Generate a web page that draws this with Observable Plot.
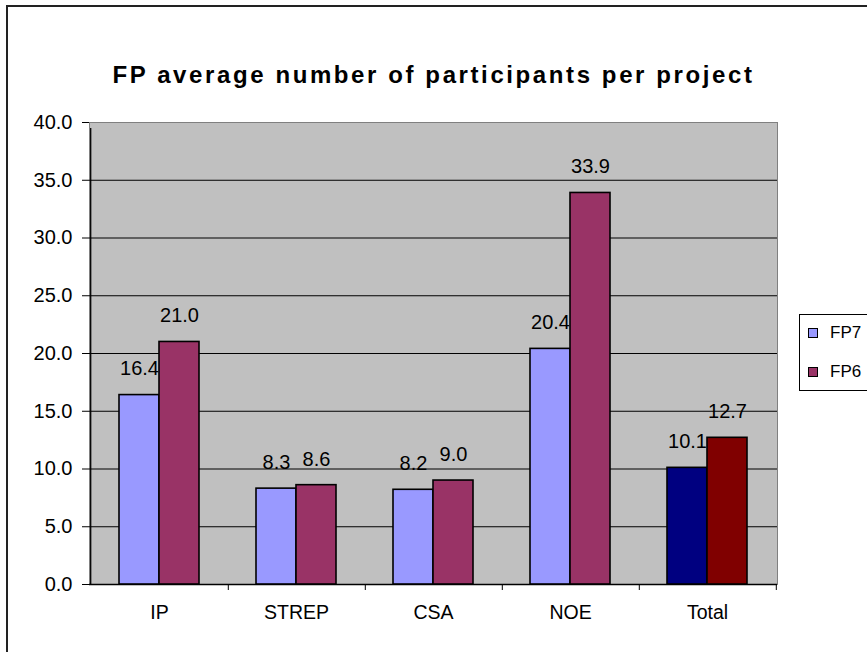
<!DOCTYPE html>
<html>
<head>
<meta charset="utf-8">
<script src="https://cdn.jsdelivr.net/npm/d3@7"></script>
<script src="https://cdn.jsdelivr.net/npm/@observablehq/plot@0.6"></script>
<style>
  html, body { margin: 0; padding: 0; background: #fff; }
  #wrap { position: relative; width: 867px; height: 652px; overflow: hidden; font-family: "Liberation Sans", Arial, sans-serif; }
  #border { position: absolute; left: 6px; top: 5px; width: 900px; height: 700px; border-left: 2px solid #222; border-top: 2px solid #222; }
  #title { position: absolute; left: 0; width: 867px; top: 60px; line-height: 29px; text-align: center; font-weight: bold; font-size: 24px; letter-spacing: 2.6px; color: #000; }
  #chart { position: absolute; left: 0; top: 0; }
  #legend { position: absolute; left: 799px; top: 314px; width: 90px; height: 75px; border: 1px solid #000; background: #fff; }
  .item { position: absolute; left: 8px; font-size: 17px; color: #000; display: flex; align-items: center; }
  .sw { width: 8px; height: 8px; border: 1px solid #000; margin-right: 12px; }
</style>
</head>
<body>
<div id="wrap">
  <div id="border"></div>
  <div id="chart"></div>
  <div id="title"></div>
  <div id="legend"></div>
</div>
<script>
const titleText = "FP average number of participants per project";
const categories = ["IP", "STREP", "CSA", "NOE", "Total"];
const seriesNames = ["FP7", "FP6"];
const fp7 = [16.4, 8.3, 8.2, 20.4, 10.1];
const fp6 = [21.0, 8.6, 9.0, 33.9, 12.7];
const yTicks = [0, 5, 10, 15, 20, 25, 30, 35, 40];

const fp7Color = "#9999FF", fp6Color = "#993366";
const totalFp7Color = "#000080", totalFp6Color = "#800000";

const W = 867, H = 652;
const mL = 89, mR = 90, mT = 122, mB = 68;
const step = (W - mL - mR) / categories.length;
const pInner = 0.4186, pOuter = 0.2093;
const bw = step * (1 - pInner);
const half = bw / 2;

const rows7 = categories.map((c, i) => ({cat: c, value: fp7[i], series: seriesNames[0]}));
const rows6 = categories.map((c, i) => ({cat: c, value: fp6[i], series: seriesNames[1]}));

document.getElementById("title").textContent = titleText;

const chart = Plot.plot({
  width: W, height: H,
  marginLeft: mL, marginRight: mR, marginTop: mT, marginBottom: mB,
  style: {fontFamily: "'Liberation Sans', Arial, sans-serif", background: "transparent", color: "#000", overflow: "visible"},
  x: {type: "band", domain: categories, paddingInner: pInner, paddingOuter: pOuter, align: 0.5},
  y: {domain: [0, 40]},
  marks: [
    Plot.frame({fill: "#C0C0C0", stroke: "#808080", strokeWidth: 1}),
    Plot.ruleY(yTicks.filter(t => t > 0 && t < 40), {stroke: "#000", strokeWidth: 1}),
    Plot.axisY({ticks: yTicks, tickFormat: d3.format(".1f"), tickSize: 7, tickPadding: 10, fontSize: 20, stroke: "#000", label: null}),
    Plot.axisX({tickSize: 0, tickPadding: 21, fontSize: 19.5, label: null}),
    // category boundary ticks below x axis
    Plot.ruleX(categories, {x: d => d, y1: 0, y2: 0, dx: step / 2, insetBottom: -6, stroke: "#000"}),
    // left axis line with its tick
    Plot.ruleX([categories[0]], {x: d => d, y1: 0, y2: 40, dx: -step / 2, insetBottom: -6, stroke: "#000", strokeWidth: 1.3}),
    // bottom axis line
    Plot.ruleY([0], {stroke: "#000", strokeWidth: 1.3}),
    Plot.barY(rows7, {x: "cat", y: "value", insetRight: half, fill: d => d.cat === "Total" ? totalFp7Color : fp7Color, stroke: "#000", strokeWidth: 1.6}),
    Plot.text(rows7, {x: "cat", y: "value", text: d => d3.format(".1f")(d.value), dx: -half / 2, dy: -26, fontSize: 20, fill: "#000"}),
    Plot.barY(rows6, {x: "cat", y: "value", insetLeft: half, fill: d => d.cat === "Total" ? totalFp6Color : fp6Color, stroke: "#000", strokeWidth: 1.6}),
    Plot.text(rows6, {x: "cat", y: "value", text: d => d3.format(".1f")(d.value), dx: half / 2, dy: -26, fontSize: 20, fill: "#000"})
  ]
});
document.getElementById("chart").appendChild(chart);

const legend = document.getElementById("legend");
const legendColors = [fp7Color, fp6Color];
seriesNames.forEach((s, i) => {
  const it = document.createElement("div");
  it.className = "item";
  it.style.top = (8 + i * 39) + "px";
  const sw = document.createElement("div");
  sw.className = "sw";
  sw.style.background = legendColors[i];
  const lb = document.createElement("span");
  lb.textContent = s;
  it.appendChild(sw); it.appendChild(lb);
  legend.appendChild(it);
});
</script>
</body>
</html>
